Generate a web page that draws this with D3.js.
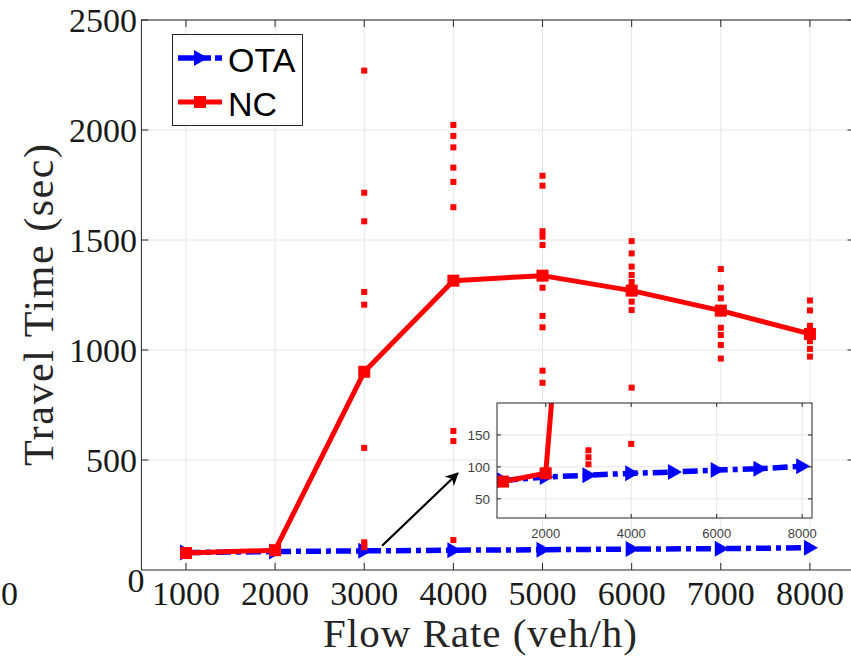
<!DOCTYPE html>
<html>
<head>
<meta charset="utf-8">
<script src="https://cdn.jsdelivr.net/npm/d3@7"></script>
<style>
  body { margin: 0; background: #fff; }
  svg { display: block; }
</style>
</head>
<body>
<script>
// Flow rates tested and average travel times per control scheme
const flowRates = [1000, 2000, 3000, 4000, 5000, 6000, 7000, 8000];
const otaTravel = [79, 84, 87, 90, 92, 95, 97, 101];
const ncTravel  = [77, 90, 901, 1315, 1338, 1270, 1179, 1073];
// Individual NC runs at each flow rate
const ncRuns = [
  [],
  [],
  [2270, 1715, 1585, 1264, 1206, 555, 126, 115, 104],
  [2023, 1973, 1921, 1829, 1764, 1649, 632, 586, 136],
  [1792, 1747, 1540, 1515, 1477, 1283, 1155, 1103, 906, 851],
  [1495, 1439, 1379, 1341, 1309, 1258, 1220, 1182, 829],
  [1368, 1283, 1235, 1101, 1068, 1023, 961],
  [1225, 1180, 1110, 1040, 1005, 970]
];
const seriesNames = ["OTA", "NC"];
const xTicks = [1000, 2000, 3000, 4000, 5000, 6000, 7000, 8000];
const yTicks = [500, 1000, 1500, 2000, 2500];
const insetXTicks = [2000, 4000, 6000, 8000];
const insetYTicks = [50, 100, 150];
const arrowFrom = [3200, 110];
const arrowTo = [4050, 440];

const W = 851, H = 656;
const BLUE = "#0000ff", RED = "#ff0000", AXIS = "#262626", GRID = "#e6e6e6";
const SERIF = "'Liberation Serif', 'Times New Roman', serif";
const SANS = "'Liberation Sans', Arial, sans-serif";

const svg = d3.select("body").append("svg")
  .attr("width", W).attr("height", H)
  .attr("viewBox", `0 0 ${W} ${H}`);

const x = d3.scaleLinear().domain([500, 8500]).range([141.4, 854.5]);
const y = d3.scaleLinear().domain([0, 2500]).range([570, 20]);

const triPath = "M-6,-8L8,0L-6,8Z";
const dashDot = "15,5,5,5";

// ---- main axes: grid, frame, inward ticks ----
const grid = svg.append("g").attr("stroke", GRID).attr("stroke-width", 1);
xTicks.forEach(v => grid.append("line")
  .attr("x1", x(v)).attr("x2", x(v)).attr("y1", y(0)).attr("y2", y(2500)));
yTicks.forEach(v => grid.append("line")
  .attr("x1", x(500)).attr("x2", x(8500)).attr("y1", y(v)).attr("y2", y(v)));

const frame = svg.append("g").attr("stroke", AXIS).attr("stroke-width", 1).attr("fill", "none");
frame.append("rect")
  .attr("x", x(500)).attr("y", y(2500))
  .attr("width", x(8500) - x(500)).attr("height", y(0) - y(2500));
xTicks.forEach(v => {
  frame.append("line").attr("x1", x(v)).attr("x2", x(v)).attr("y1", y(0)).attr("y2", y(0) - 7);
  frame.append("line").attr("x1", x(v)).attr("x2", x(v)).attr("y1", y(2500)).attr("y2", y(2500) + 7);
});
yTicks.forEach(v => {
  frame.append("line").attr("x1", x(500)).attr("x2", x(500) + 7).attr("y1", y(v)).attr("y2", y(v));
  frame.append("line").attr("x1", x(8500)).attr("x2", x(8500) - 7).attr("y1", y(v)).attr("y2", y(v));
});

// tick labels
const labels = svg.append("g").attr("font-family", SERIF).attr("font-size", 34).attr("fill", "#1a1a1a");
xTicks.forEach(v => labels.append("text")
  .attr("x", x(v)).attr("y", 605).attr("text-anchor", "middle").text(v));
yTicks.forEach(v => labels.append("text")
  .attr("x", 137).attr("y", y(v) + 12).attr("text-anchor", "end").text(v));
labels.append("text").attr("x", 136).attr("y", 592).attr("text-anchor", "middle").text("0");
labels.append("text").attr("x", 9.5).attr("y", 605).attr("text-anchor", "middle").text("0");

// axis titles
svg.append("text")
  .attr("x", 480).attr("y", 647).attr("text-anchor", "middle")
  .attr("font-family", SERIF).attr("font-size", 41).attr("fill", "#262626")
  .attr("textLength", 314).attr("lengthAdjust", "spacing")
  .text("Flow Rate (veh/h)");
svg.append("text")
  .attr("transform", "translate(53,305) rotate(-90)").attr("text-anchor", "middle")
  .attr("font-family", SERIF).attr("font-size", 42).attr("fill", "#262626")
  .attr("textLength", 322).attr("lengthAdjust", "spacing")
  .text("Travel Time (sec)");

// ---- series drawing helper ----
function drawSeries(g, sx, sy) {
  const otaLine = d3.line().x((d, i) => sx(flowRates[i])).y(d => sy(d));
  g.append("path").datum(otaTravel)
    .attr("d", otaLine).attr("fill", "none").attr("stroke", BLUE)
    .attr("stroke-width", 5.5).attr("stroke-dasharray", dashDot);
  g.selectAll(null).data(otaTravel).enter().append("path")
    .attr("d", triPath).attr("fill", BLUE)
    .attr("transform", (d, i) => `translate(${sx(flowRates[i])},${sy(d)})`);

  const ncLine = d3.line().x((d, i) => sx(flowRates[i])).y(d => sy(d));
  g.append("path").datum(ncTravel)
    .attr("d", ncLine).attr("fill", "none").attr("stroke", RED)
    .attr("stroke-width", 5).attr("stroke-linejoin", "round");
  g.selectAll(null).data(ncTravel).enter().append("rect")
    .attr("x", (d, i) => sx(flowRates[i]) - 6).attr("y", d => sy(d) - 6)
    .attr("width", 12).attr("height", 12).attr("fill", RED);

  const pts = [];
  ncRuns.forEach((runs, i) => runs.forEach(v => pts.push([flowRates[i], v])));
  g.selectAll(null).data(pts).enter().append("rect")
    .attr("x", d => sx(d[0]) - 3).attr("y", d => sy(d[1]) - 3)
    .attr("width", 6).attr("height", 6).attr("fill", RED);
}

drawSeries(svg.append("g"), x, y);

// ---- legend ----
const lg = svg.append("g");
lg.append("rect").attr("x", 172.5).attr("y", 34.5).attr("width", 130).attr("height", 91)
  .attr("fill", "#fff").attr("stroke", AXIS).attr("stroke-width", 1);
const legendRows = [
  { name: seriesNames[0], color: BLUE, cy: 58 },
  { name: seriesNames[1], color: RED, cy: 102 }
];
legendRows.forEach((r, k) => {
  lg.append("line").attr("x1", 178).attr("x2", 222).attr("y1", r.cy).attr("y2", r.cy)
    .attr("stroke", r.color).attr("stroke-width", k === 0 ? 5.5 : 5)
    .attr("stroke-dasharray", k === 0 ? "18,7,8,4" : null);
  if (k === 0) {
    lg.append("path").attr("d", triPath).attr("fill", r.color)
      .attr("transform", `translate(200,${r.cy})`);
  } else {
    lg.append("rect").attr("x", 194).attr("y", r.cy - 6).attr("width", 12).attr("height", 12)
      .attr("fill", r.color);
  }
  lg.append("text").attr("x", 228).attr("y", r.cy + 14)
    .attr("font-family", SANS).attr("font-size", 34).attr("fill", "#000").text(r.name);
});

// ---- arrow pointing to the zoomed view ----
svg.append("defs").append("marker")
  .attr("id", "arrowhead").attr("viewBox", "0 0 10 10")
  .attr("refX", 9).attr("refY", 5).attr("markerWidth", 6).attr("markerHeight", 6)
  .attr("markerUnits", "strokeWidth").attr("orient", "auto")
  .append("path").attr("d", "M0,0L10,5L0,10L3,5Z").attr("fill", "#000");
svg.append("line")
  .attr("x1", x(arrowFrom[0])).attr("y1", y(arrowFrom[1]))
  .attr("x2", x(arrowTo[0])).attr("y2", y(arrowTo[1]))
  .attr("stroke", "#000").attr("stroke-width", 2.2).attr("marker-end", "url(#arrowhead)");

// ---- inset: close-up of the low travel-time range ----
const ix = d3.scaleLinear().domain([860, 8230]).range([497, 812]);
const iy = d3.scaleLinear().domain([20, 200]).range([518, 403]);
const inset = svg.append("g");
inset.append("rect").attr("x", 497).attr("y", 403).attr("width", 315).attr("height", 115)
  .attr("fill", "#fff");
svg.select("defs").append("clipPath").attr("id", "insetClip")
  .append("rect").attr("x", 497).attr("y", 403).attr("width", 315).attr("height", 115);
insetXTicks.forEach(v => inset.append("line").attr("stroke", GRID)
  .attr("x1", ix(v)).attr("x2", ix(v)).attr("y1", 403).attr("y2", 518));
insetYTicks.forEach(v => inset.append("line").attr("stroke", GRID)
  .attr("x1", 497).attr("x2", 812).attr("y1", iy(v)).attr("y2", iy(v)));
drawSeries(inset.append("g").attr("clip-path", "url(#insetClip)"), ix, iy);
inset.append("rect").attr("x", 497).attr("y", 403).attr("width", 315).attr("height", 115)
  .attr("fill", "none").attr("stroke", AXIS).attr("stroke-width", 1);
insetXTicks.forEach(v => {
  inset.append("line").attr("stroke", AXIS).attr("x1", ix(v)).attr("x2", ix(v)).attr("y1", 518).attr("y2", 514);
  inset.append("line").attr("stroke", AXIS).attr("x1", ix(v)).attr("x2", ix(v)).attr("y1", 403).attr("y2", 407);
  inset.append("text").attr("x", ix(v)).attr("y", 538).attr("text-anchor", "middle")
    .attr("font-family", SANS).attr("font-size", 13).attr("fill", "#404040").text(v);
});
insetYTicks.forEach(v => {
  inset.append("line").attr("stroke", AXIS).attr("x1", 497).attr("x2", 501).attr("y1", iy(v)).attr("y2", iy(v));
  inset.append("line").attr("stroke", AXIS).attr("x1", 812).attr("x2", 808).attr("y1", iy(v)).attr("y2", iy(v));
  inset.append("text").attr("x", 490).attr("y", iy(v) + 5).attr("text-anchor", "end")
    .attr("font-family", SANS).attr("font-size", 13.5).attr("fill", "#404040").text(v);
});
</script>
</body>
</html>
